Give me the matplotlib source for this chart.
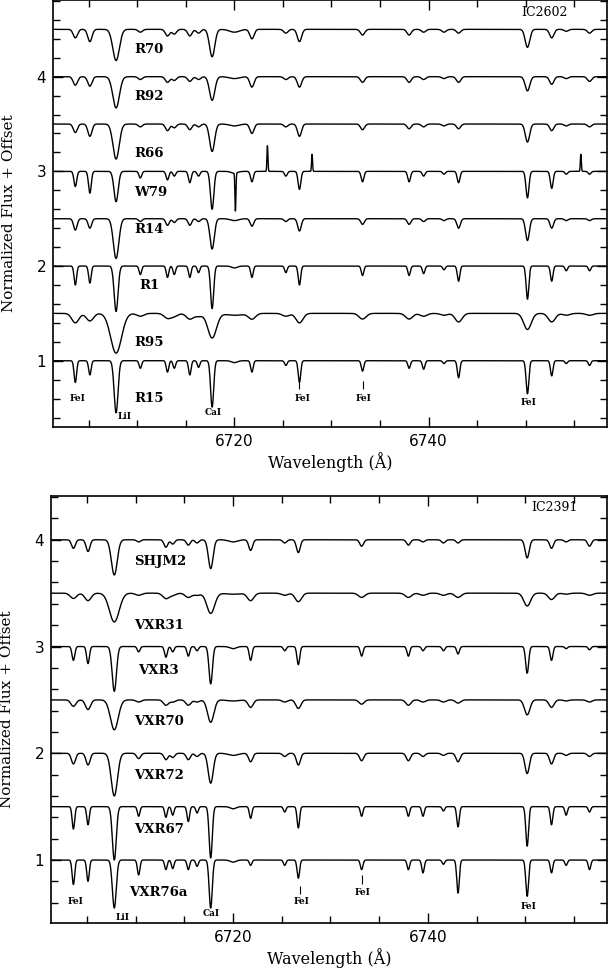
import numpy as np
import matplotlib
matplotlib.use("Agg")
import matplotlib.pyplot as plt
from matplotlib.ticker import MultipleLocator

# absorption lines seen in both panels (Angstrom)
line_wave = [6703.6, 6705.1, 6707.8, 6710.3, 6713.1, 6713.8, 6715.4, 6716.3, 6717.7,
             6720.0, 6721.8, 6725.3, 6726.7, 6733.2, 6738.0, 6739.5, 6741.6, 6743.1,
             6750.2, 6752.7, 6754.2, 6756.6]
# intrinsic gaussian sigma of each line (Angstrom)
line_sigma = [0.13, 0.13, 0.20, 0.13, 0.13, 0.13, 0.13, 0.13, 0.16,
              0.30, 0.13, 0.13, 0.13, 0.13, 0.13, 0.13, 0.13, 0.13,
              0.14, 0.13, 0.13, 0.13]

# ---- IC2602 ----
top_names = ["R70", "R92", "R66", "W79", "R14", "R1", "R95", "R15"]
top_offsets = [4.5, 4.0, 3.5, 3.0, 2.5, 2.0, 1.5, 1.0]
top_broad = [1.7, 1.7, 1.6, 1.1, 1.4, 1.0, 2.8, 1.0]
top_depths = [
    [0.09, 0.13, 0.33, 0.03, 0.07, 0.05, 0.07, 0.04, 0.29, 0.03, 0.10, 0.04, 0.13, 0.06, 0.06, 0.03, 0.03, 0.04, 0.19, 0.09, 0.02, 0.04],
    [0.09, 0.10, 0.33, 0.03, 0.06, 0.04, 0.05, 0.03, 0.25, 0.02, 0.11, 0.03, 0.11, 0.06, 0.06, 0.03, 0.02, 0.06, 0.15, 0.08, 0.02, 0.05],
    [0.09, 0.13, 0.37, 0.03, 0.07, 0.04, 0.06, 0.03, 0.29, 0.02, 0.10, 0.03, 0.13, 0.06, 0.05, 0.03, 0.02, 0.05, 0.19, 0.07, 0.02, 0.03],
    [0.16, 0.23, 0.32, 0.07, 0.09, 0.05, 0.12, 0.05, 0.40, 0.02, 0.11, 0.05, 0.19, 0.11, 0.11, 0.05, 0.03, 0.12, 0.28, 0.18, 0.03, 0.03],
    [0.12, 0.10, 0.42, 0.03, 0.07, 0.04, 0.07, 0.03, 0.32, 0.02, 0.08, 0.03, 0.13, 0.06, 0.06, 0.03, 0.02, 0.10, 0.23, 0.10, 0.02, 0.02],
    [0.20, 0.18, 0.48, 0.09, 0.12, 0.09, 0.12, 0.07, 0.45, 0.02, 0.12, 0.07, 0.20, 0.10, 0.10, 0.08, 0.04, 0.16, 0.35, 0.16, 0.05, 0.05],
    [0.10, 0.08, 0.42, 0.03, 0.05, 0.03, 0.06, 0.03, 0.26, 0.02, 0.06, 0.03, 0.10, 0.06, 0.06, 0.03, 0.02, 0.09, 0.17, 0.09, 0.02, 0.02],
    [0.23, 0.15, 0.55, 0.08, 0.12, 0.08, 0.15, 0.07, 0.49, 0.02, 0.12, 0.05, 0.23, 0.11, 0.08, 0.09, 0.03, 0.18, 0.35, 0.16, 0.03, 0.05],
]
top_label_x = [6709.7, 6709.7, 6709.7, 6709.7, 6709.7, 6710.2, 6709.7, 6709.7]
top_label_y = [4.29, 3.79, 3.19, 2.78, 2.39, 1.79, 1.19, 0.60]

# W79: sharp artefacts (wavelength, height; negative = absorption)
w79_spike_wave = [6720.1, 6723.4, 6728.0, 6755.7]
w79_spike_height = [-0.40, 0.27, 0.18, 0.18]

# ---- IC2391 ----
bot_names = ["SHJM2", "VXR31", "VXR3", "VXR70", "VXR72", "VXR67", "VXR76a"]
bot_offsets = [4.0, 3.5, 3.0, 2.5, 2.0, 1.5, 1.0]
bot_broad = [1.5, 2.5, 1.1, 2.0, 1.6, 1.0, 1.0]
bot_depths = [
    [0.08, 0.11, 0.33, 0.02, 0.07, 0.04, 0.05, 0.03, 0.27, 0.02, 0.10, 0.03, 0.12, 0.06, 0.05, 0.02, 0.03, 0.03, 0.17, 0.08, 0.02, 0.06],
    [0.05, 0.07, 0.27, 0.02, 0.05, 0.02, 0.04, 0.02, 0.19, 0.01, 0.07, 0.02, 0.08, 0.04, 0.04, 0.02, 0.02, 0.04, 0.12, 0.06, 0.01, 0.02],
    [0.13, 0.16, 0.42, 0.05, 0.10, 0.05, 0.09, 0.04, 0.35, 0.02, 0.13, 0.04, 0.17, 0.09, 0.09, 0.04, 0.04, 0.07, 0.25, 0.13, 0.02, 0.03],
    [0.06, 0.09, 0.28, 0.02, 0.05, 0.02, 0.05, 0.02, 0.21, 0.01, 0.07, 0.02, 0.08, 0.04, 0.05, 0.02, 0.02, 0.03, 0.14, 0.07, 0.01, 0.02],
    [0.10, 0.11, 0.40, 0.05, 0.06, 0.04, 0.06, 0.03, 0.28, 0.02, 0.08, 0.03, 0.11, 0.07, 0.07, 0.03, 0.02, 0.08, 0.19, 0.10, 0.02, 0.03],
    [0.21, 0.17, 0.50, 0.09, 0.10, 0.08, 0.14, 0.06, 0.48, 0.02, 0.11, 0.05, 0.20, 0.09, 0.09, 0.09, 0.04, 0.19, 0.37, 0.17, 0.08, 0.05],
    [0.23, 0.20, 0.45, 0.14, 0.09, 0.08, 0.09, 0.06, 0.45, 0.02, 0.05, 0.05, 0.17, 0.09, 0.09, 0.12, 0.04, 0.31, 0.34, 0.12, 0.05, 0.09],
]
bot_label_x = [6709.8, 6709.8, 6710.2, 6709.8, 6709.8, 6709.8, 6709.3]
bot_label_y = [3.80, 3.20, 2.78, 2.30, 1.79, 1.29, 0.70]

# line identifications: text, x, y  (top panel / bottom panel)
id_text = ["FeI", "LiI", "CaI", "FeI", "FeI", "FeI"]
id_x = [6703.8, 6708.7, 6717.8, 6727.0, 6733.3, 6750.3]
top_id_y = [0.60, 0.41, 0.45, 0.60, 0.60, 0.56]
bot_id_y = [0.61, 0.46, 0.50, 0.61, 0.70, 0.56]
# short marker bars above some labels (wavelength, y0, y1)
top_bar_wave = [6726.7, 6733.2]
top_bar_lo = [0.70, 0.70]
top_bar_hi = [0.79, 0.79]
bot_bar_wave = [6726.9, 6733.2]
bot_bar_lo = [0.68, 0.78]
bot_bar_hi = [0.76, 0.86]

wave = np.arange(6700.0, 6760.0, 0.02)


def spectrum(depths, broad, offset):
    flux = np.ones_like(wave)
    for w0, s0, d in zip(line_wave, line_sigma, depths):
        s = s0 * broad
        flux -= d * np.exp(-0.5 * ((wave - w0) / s) ** 2)
    return flux + offset - 1.0


def style_axes(ax, ylim):
    ax.set_xlim(6701.3, 6758.4)
    ax.set_ylim(*ylim)
    ax.xaxis.set_major_locator(MultipleLocator(20))
    ax.xaxis.set_minor_locator(MultipleLocator(5))
    ax.yaxis.set_major_locator(MultipleLocator(1))
    ax.yaxis.set_minor_locator(MultipleLocator(0.2))
    ax.tick_params(which="both", direction="in", top=True, right=True, width=1.0)
    ax.tick_params(which="major", length=7, labelsize=11, pad=5)
    ax.tick_params(which="minor", length=5)
    for sp in ax.spines.values():
        sp.set_linewidth(1.2)
    ax.set_xlabel("Wavelength (Å)", family="DejaVu Serif", fontsize=11.5, labelpad=2)
    ax.set_ylabel("Normalized Flux + Offset", family="DejaVu Serif", fontsize=11)
    ax.yaxis.set_label_coords(-0.066, 0.5)


fig = plt.figure(figsize=(6.08, 9.72), dpi=100)
ax1 = fig.add_axes([0.0872, 0.5607, 0.9112, 0.4393])
ax2 = fig.add_axes([0.0839, 0.0504, 0.9145, 0.4393])

# top panel: IC2602
for i, name in enumerate(top_names):
    flux = spectrum(top_depths[i], top_broad[i], top_offsets[i])
    if name == "W79":
        for w0, h in zip(w79_spike_wave, w79_spike_height):
            flux += h * np.exp(-0.5 * ((wave - w0) / 0.05) ** 2)
    ax1.plot(wave, flux, color="black", lw=1.0)
    ax1.text(top_label_x[i], top_label_y[i], name, fontsize=9.5, fontweight="bold",
             family="DejaVu Serif", va="center", ha="left")
for t, x, y in zip(id_text, id_x, top_id_y):
    ax1.text(x, y, t, fontsize=6.5, fontweight="bold", family="DejaVu Serif",
             ha="center", va="center")
ax1.vlines(top_bar_wave, top_bar_lo, top_bar_hi, color="black", lw=0.8)
ax1.text(6752.0, 4.68, "IC2602", fontsize=9, family="DejaVu Serif", ha="center", va="center")
style_axes(ax1, (0.30, 4.81))

# bottom panel: IC2391
for i, name in enumerate(bot_names):
    flux = spectrum(bot_depths[i], bot_broad[i], bot_offsets[i])
    ax2.plot(wave, flux, color="black", lw=1.0)
    ax2.text(bot_label_x[i], bot_label_y[i], name, fontsize=9.5, fontweight="bold",
             family="DejaVu Serif", va="center", ha="left")
for t, x, y in zip(id_text, id_x, bot_id_y):
    ax2.text(x, y, t, fontsize=6.5, fontweight="bold", family="DejaVu Serif",
             ha="center", va="center")
ax2.vlines(bot_bar_wave, bot_bar_lo, bot_bar_hi, color="black", lw=0.8)
ax2.text(6753.0, 4.30, "IC2391", fontsize=9, family="DejaVu Serif", ha="center", va="center")
style_axes(ax2, (0.41, 4.41))

fig.savefig("out.png", dpi=100)
